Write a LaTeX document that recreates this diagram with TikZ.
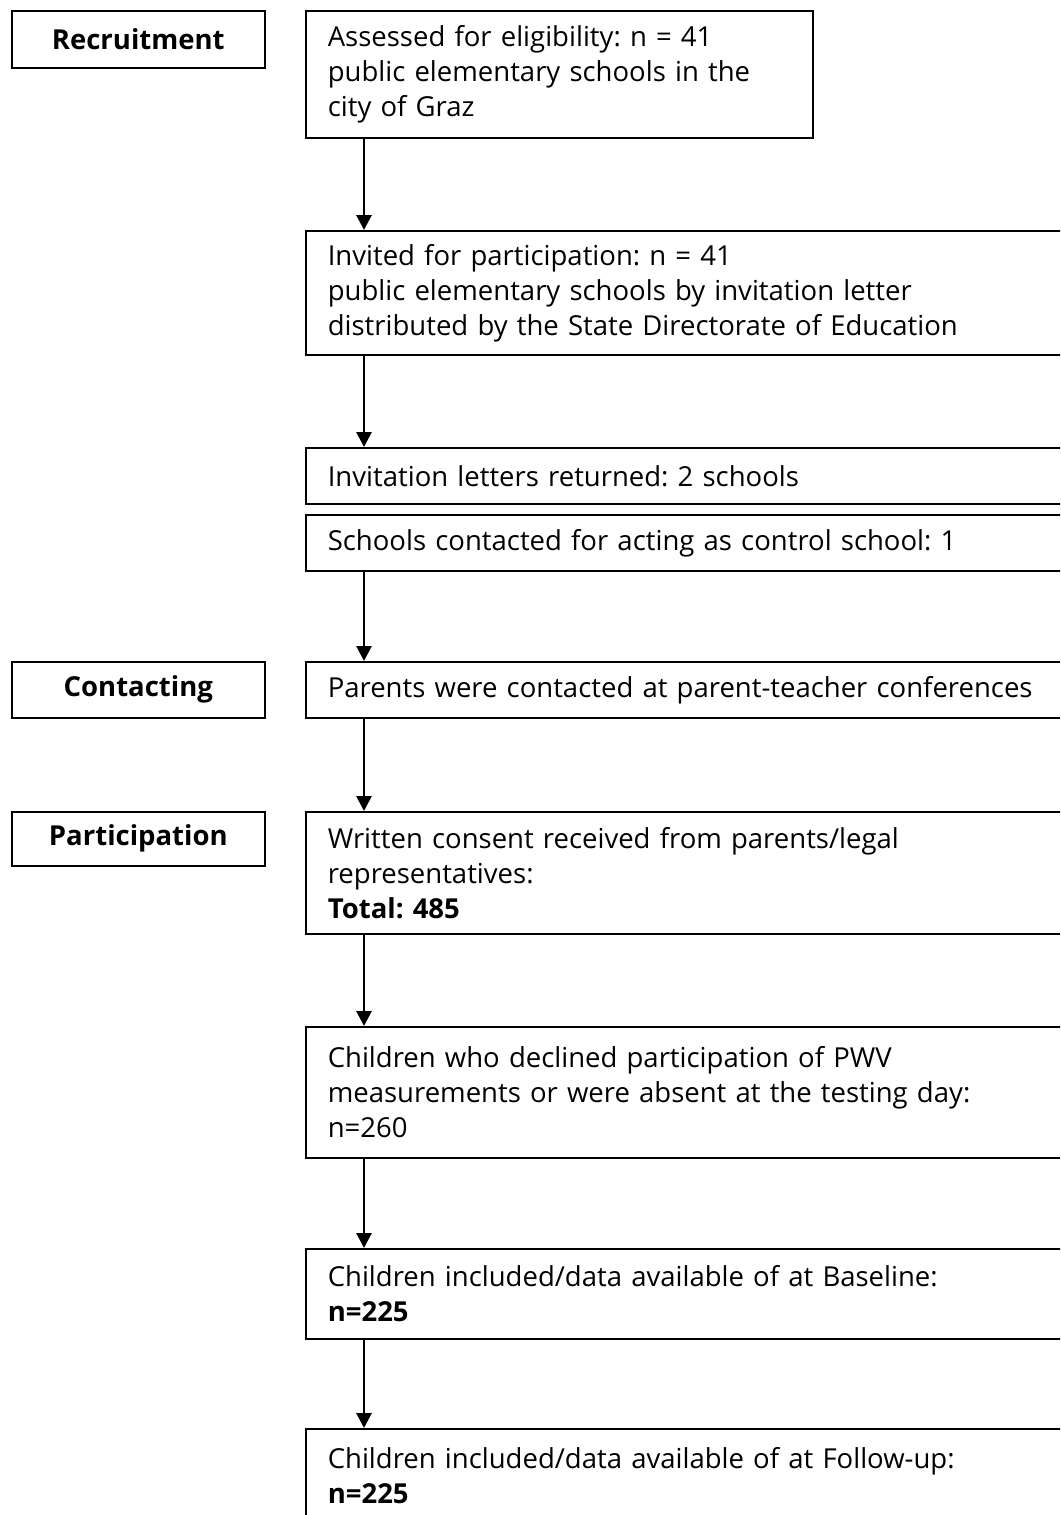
\documentclass[tikz,border=0pt]{standalone}
\usepackage{fontspec}
\setmainfont{Open Sans}
\frenchspacing
\usetikzlibrary{
    arrows.meta,
    positioning
}
\tikzset{
  box/.style={
    draw=black,
    line width=1.6pt,
    anchor=north west,
    align=left,
    inner xsep=22pt,
    inner ysep=0pt,
    font=\fontsize{27.5}{35}\selectfont
  },
  stage/.style={
    box,
    align=center,
    text width=209pt,
    font=\fontsize{27.5}{35}\selectfont\bfseries
  },
  flow/.style={
    -{Triangle[length=15pt,width=15pt]},
    line width=2.8pt
  }
}

\begin{document}
\begin{tikzpicture}[x=1pt,y=-1pt]
\clip (0,0) rectangle (1060,1515);
\node[stage,minimum height=57pt] (rec) at (11,10) {Recruitment};
\node[stage,minimum height=56pt] (con) at (11,661) {Contacting};
\node[stage,minimum height=54pt] (par) at (11,811) {Participation};

\node[box,text width=463pt,minimum height=127pt] (b1) at (305,10)
  {Assessed for eligibility: n = 41\\public elementary schools in the\\city of Graz};
\node[box,text width=816pt,minimum height=124pt] (b2) at (305,230)
  {Invited for participation: n = 41\\public elementary schools by invitation letter\\distributed by the State Directorate of Education};
\node[box,text width=816pt,minimum height=56pt] (b3) at (305,447)
  {Invitation letters returned: 2 schools};
\node[box,text width=816pt,minimum height=56pt] (b4) at (305,514)
  {Schools contacted for acting as control school: 1};
\node[box,text width=816pt,minimum height=56pt] (b5) at (305,661)
  {Parents were contacted at parent-teacher conferences};
\node[box,text width=816pt,minimum height=122pt] (b6) at (305,811)
  {Written consent received from parents/legal\\representatives:\\\textbf{Total: 485}};
\node[box,text width=816pt,minimum height=131pt] (b7) at (305,1026)
  {Children who declined participation of PWV\\measurements or were absent at the testing day:\\n=260};
\node[box,text width=816pt,minimum height=90pt] (b8) at (305,1248)
  {Children included/data available of at Baseline:\\\textbf{n=225}};
\node[box,text width=816pt,minimum height=94pt] (b9) at (305,1428)
  {Children included/data available of at Follow-up:\\\textbf{n=225}};

\foreach \a/\b in {b1/b2,b2/b3,b4/b5,b5/b6,b6/b7,b7/b8,b8/b9}
  \draw[flow] ([xshift=59pt]\a.south west) -- ([xshift=59pt]\b.north west);
\end{tikzpicture}
\end{document}
